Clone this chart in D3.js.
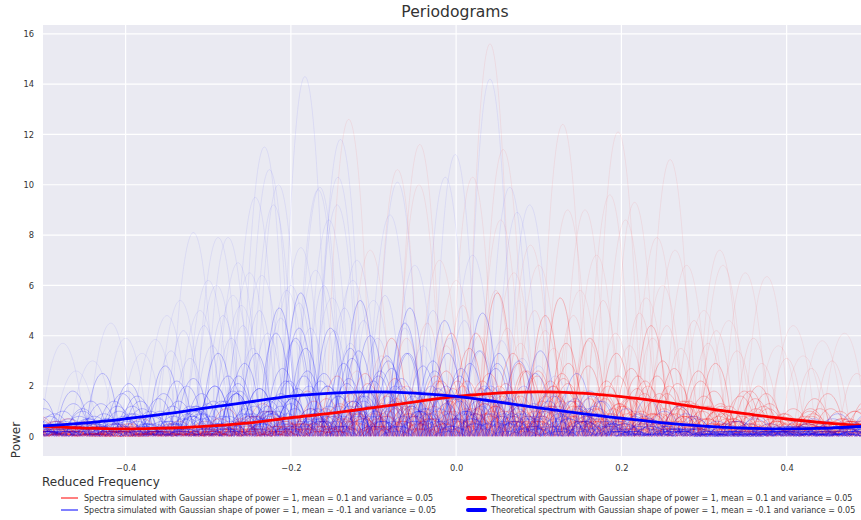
<!DOCTYPE html>
<html><head><meta charset="utf-8">
<script src="https://cdn.jsdelivr.net/npm/d3@7"></script>
<style>body{margin:0;background:#fff}svg{display:block}text{font-family:"DejaVu Sans",sans-serif}</style>
</head><body><svg id="c" width="861" height="520"></svg>
<script>
// ---------- data ----------
const xTicks = [-0.4, -0.2, 0, 0.2, 0.4];
const yTicks = [0, 2, 4, 6, 8, 10, 12, 14, 16];
const freqGrid = [-0.5,-0.45,-0.4,-0.35,-0.3,-0.25,-0.2,-0.15,-0.1,-0.05,0,0.05,0.1,0.15,0.2,0.25,0.3,0.35,0.4,0.45,0.5];
const redTheory  = [0.41,0.33,0.30,0.33,0.41,0.54,0.74,0.92,1.14,1.37,1.59,1.72,1.77,1.72,1.58,1.37,1.12,0.90,0.69,0.53,0.42];
const blueTheory = [0.42,0.53,0.70,0.90,1.14,1.37,1.60,1.72,1.77,1.72,1.59,1.37,1.13,0.91,0.72,0.54,0.41,0.33,0.30,0.33,0.41];

const redOffsets  = [0.5,0.85,0.25,0.05,0.7,0.4,0.9,0.15,0.6,0.3,0.8,0.0,0.45,0.2,0.95,0.65,
                     0.33,0.72,0.08,0.55,0.92,0.18,0.62,0.38,0.88,0.02,0.48,0.75];
const blueOffsets = [0.1,0.55,0.3,0.8,0.45,0.95,0.2,0.65,0.05,0.4,0.75,0.15,0.6,0.9,0.35,0.7,
                     0.25,0.85,0.5,0.0,0.7,0.35,0.9,0.12,0.58,0.78,0.42,0.05];

const redSpectra = [
 [0.2,0.4,0.2,0.7,0.1,0.3,0.6,0.2,1.8,0.4,0.9,2.0,0.3,1.1,2.1,0.6,0.8,1.5,2.4,0.9,1.6,1.0,0.5,0.3,0.5,0.8],
 [0.6,0.1,0.2,0.1,0.3,0.7,0.2,0.6,0.2,1.7,0.8,0.5,4.1,1.3,0.4,2.2,1.0,3.3,0.7,1.4,2.9,0.3,0.8,1.5,0.3,0.5],
 [0.2,0.7,0.4,0.0,0.4,0.2,0.1,1.0,0.6,0.3,2.5,1.2,0.9,0.4,5.7,1.2,2.3,0.6,1.5,3.0,0.5,1.2,0.3,0.5,1.7,0.2],
 [0.5,0.1,0.1,0.5,0.2,0.4,1.1,0.4,0.3,1.1,0.5,3.9,1.5,2.2,0.8,0.2,1.6,3.9,0.5,0.9,1.4,0.5,1.5,0.2,0.4,1.0],
 [0.1,0.3,0.5,0.2,0.1,0.1,0.3,0.8,1.4,0.7,0.3,1.1,2.6,0.6,1.8,4.8,1.2,0.4,1.7,2.1,0.4,0.9,0.6,1.0,0.7,0.3],
 [0.8,0.2,0.0,0.3,0.4,0.6,0.2,0.1,0.5,2.4,1.2,0.6,1.0,3.5,1.4,0.6,2.9,1.7,0.9,0.3,2.2,0.7,0.2,0.7,0.2,1.4],
 [0.3,0.5,0.2,0.1,0.1,0.3,0.8,0.4,0.2,0.9,1.6,0.3,1.9,0.9,2.9,1.8,0.6,2.4,4.4,0.8,1.0,1.8,0.9,0.4,0.6,0.2],
 [0.4,0.1,0.4,0.5,0.2,0.1,0.5,1.3,0.3,0.4,0.8,2.3,0.5,1.5,0.4,2.6,5.5,0.9,0.3,1.7,0.8,0.3,2.0,0.6,0.2,0.6],
 [0.2,0.2,0.3,0.1,0.6,0.2,0.1,0.4,1.1,1.0,0.4,0.9,1.7,4.1,1.0,1.4,0.8,2.0,1.0,2.7,0.7,1.6,0.3,0.5,1.0,0.5],
 [0.5,0.3,0.1,0.3,0.1,0.5,0.4,0.2,0.5,0.2,1.8,1.4,0.7,1.1,2.0,0.4,1.8,0.7,2.7,1.1,0.3,1.0,1.2,0.3,0.4,1.1],
 [0.3,0.6,0.2,0.2,0.4,0.1,0.3,0.6,0.4,1.4,0.9,0.3,1.4,2.2,0.6,1.8,1.0,0.6,2.0,0.6,1.8,0.2,0.7,0.9,0.3,0.2],
 [0.1,0.4,0.4,0.2,0.2,0.4,0.2,0.8,0.5,0.6,1.2,1.7,1.0,0.6,2.5,1.0,0.4,2.8,1.2,1.4,0.5,1.3,0.5,0.7,1.1,0.4],
 [0.4,0.2,0.2,0.3,0.1,0.3,0.6,0.1,0.7,1.2,0.4,1.1,2.2,1.7,1.0,2.4,1.4,0.7,0.3,2.0,1.0,0.6,1.1,0.3,0.5,0.8],
 [0.2,0.3,0.1,0.4,0.3,0.2,0.3,0.6,0.4,0.8,0.7,1.5,0.7,2.0,1.2,0.6,2.5,1.1,1.5,0.6,1.3,0.7,0.4,1.1,0.2,0.5],
 [0.6,0.1,0.3,0.2,0.2,0.4,0.1,0.5,0.9,0.3,1.0,0.6,1.5,0.9,1.6,2.0,0.6,1.3,0.9,1.2,0.8,0.3,0.9,0.5,0.6,0.3],
 [0.2,0.3,0.2,0.1,0.3,0.2,0.4,0.3,0.5,1.0,0.7,1.2,0.5,1.1,1.8,1.0,1.4,1.7,0.7,0.9,1.2,0.8,0.3,0.5,0.7,0.5],
 [0.4,0.2,0.3,0.1,0.5,0.3,0.2,0.8,0.5,0.9,2.1,0.5,1.2,2.2,0.8,0.4,3.7,1.1,1.5,0.6,2.6,0.6,0.8,0.3,1.1,0.5],
 [0.2,0.5,0.2,0.3,0.2,0.1,0.8,0.2,0.8,0.6,0.4,1.8,1.0,0.7,3.3,1.6,0.6,0.9,2.2,1.1,0.5,1.8,0.3,1.1,0.4,0.7],
 [0.3,0.1,0.1,0.4,0.2,0.4,0.2,0.6,0.2,1.5,0.9,1.4,0.3,1.5,1.0,2.6,1.2,0.4,1.2,2.4,0.4,0.9,1.1,0.5,0.2,1.0],
 [0.2,0.4,0.2,0.1,0.3,0.2,0.5,0.2,0.9,0.7,0.5,0.9,2.2,0.9,1.8,0.6,1.2,2.2,0.7,0.5,1.2,0.6,0.7,0.8,0.5,0.2],
 [0.3,0.1,0.2,0.2,0.1,0.3,0.1,0.4,0.4,1.0,0.8,0.5,1.0,1.7,1.2,2.0,0.8,1.3,0.9,1.4,0.5,0.8,0.5,0.4,0.6,0.4],
 [0.1,0.2,0.1,0.2,0.2,0.1,0.3,0.3,0.5,0.3,0.7,1.1,0.7,0.6,1.2,0.8,1.4,0.6,0.9,0.9,0.4,0.5,0.6,0.3,0.3,0.5],
 [0.2,0.1,0.2,0.1,0.1,0.2,0.2,0.4,0.3,0.4,0.4,0.8,0.5,0.9,0.6,0.8,0.6,0.9,0.5,0.6,0.7,0.3,0.3,0.5,0.2,0.3],
 [0.7,0.2,0.1,0.2,0.3,0.1,0.3,1.0,0.3,0.2,1.2,0.6,2.4,0.6,1.6,1.0,2.1,0.6,1.0,1.7,0.3,0.7,1.7,0.4,0.6,0.2],
 [0.1,0.3,0.4,0.2,0.1,0.5,0.3,0.1,0.6,0.6,0.4,1.4,0.7,1.3,0.6,1.2,1.8,0.7,0.3,0.8,1.0,0.5,0.2,0.5,0.7,0.3],
 [0.4,0.1,0.1,0.2,0.4,0.2,0.1,0.3,0.8,0.4,0.9,0.3,0.9,0.7,1.6,0.6,1.0,1.5,0.7,0.5,0.8,1.2,0.4,0.2,0.4,0.6],
 [0.2,0.4,0.2,0.1,0.2,0.1,0.7,0.4,0.3,1.3,0.3,1.2,1.7,0.4,1.4,2.6,0.4,1.7,1.9,0.3,0.7,0.3,1.3,0.5,0.2,0.5],
 [0.3,0.2,0.3,0.1,0.2,0.4,0.2,0.2,0.5,0.3,1.3,0.8,0.3,1.9,0.8,1.2,0.6,1.1,0.7,1.2,0.5,0.2,0.6,0.8,0.2,0.4]
];
const blueSpectra = [
 [0.2,1.0,0.5,2.1,0.1,1.0,2.4,0.7,0.4,2.0,5.4,1.2,0.6,2.4,1.4,0.3,0.6,1.6,0.5,0.1,0.5,0.2,0.8,0.2,0.1,0.5],
 [1.1,0.2,0.6,0.4,2.2,0.4,0.9,4.1,2.0,0.2,1.0,3.3,1.5,0.5,0.2,3.4,1.0,0.4,0.9,0.3,0.1,0.6,0.1,0.4,0.9,0.2],
 [0.5,0.7,2.5,0.2,0.6,1.7,0.2,1.2,5.7,0.8,1.8,0.4,3.0,1.0,3.3,0.7,0.3,0.9,0.1,1.0,0.3,0.1,0.3,0.1,0.5,0.3],
 [0.1,0.3,1.0,0.8,0.3,3.3,1.4,0.3,1.1,3.5,0.6,1.4,0.2,4.9,1.2,1.4,0.2,0.5,1.5,0.2,0.4,0.0,0.2,0.7,0.1,0.5],
 [1.5,0.5,0.2,1.4,0.8,0.1,1.8,0.9,3.5,1.6,0.4,4.5,1.9,0.7,0.9,0.4,1.8,0.8,0.1,0.4,0.1,0.6,0.2,0.1,0.3,0.9],
 [0.3,1.4,0.8,0.1,1.2,0.8,3.3,2.2,0.6,1.0,3.0,1.8,0.7,1.9,0.3,1.6,0.8,0.3,0.6,0.9,0.2,0.1,0.4,0.3,0.2,0.1],
 [0.7,0.2,0.4,1.2,2.8,1.0,0.5,1.0,1.9,4.3,1.4,0.2,1.7,0.9,2.7,0.5,0.2,1.2,0.4,0.2,0.8,0.2,0.1,0.2,0.6,0.4],
 [0.2,0.6,1.4,0.5,0.2,1.4,1.1,5.1,0.7,0.4,2.4,1.2,4.6,1.4,0.5,1.2,2.5,0.2,0.5,0.3,0.0,0.4,0.2,0.5,0.1,0.3],
 [0.8,0.4,0.3,0.6,1.0,2.3,0.3,1.9,1.5,0.8,0.6,2.7,1.1,0.3,2.0,0.9,0.4,1.8,0.2,0.6,0.3,0.1,0.7,0.2,0.4,0.2],
 [0.4,1.8,0.7,0.3,0.5,0.3,2.1,1.0,2.4,1.8,4.0,0.8,0.4,1.7,0.8,2.5,0.7,0.1,0.8,0.2,0.4,0.2,0.1,0.2,0.7,0.2],
 [0.5,0.1,1.2,1.0,0.7,0.5,1.4,2.7,0.9,2.3,1.2,0.6,3.3,1.2,0.6,0.1,1.2,0.5,0.3,1.2,0.1,0.3,0.2,0.1,0.1,0.6],
 [1.0,0.6,0.2,0.9,1.7,1.2,0.6,0.5,3.9,1.2,1.6,2.0,0.9,2.7,1.4,0.8,0.3,0.7,1.1,0.1,0.3,0.5,0.1,0.4,0.2,0.1],
 [0.2,0.8,0.5,0.4,1.4,0.4,2.9,1.5,1.1,2.9,0.8,5.1,1.5,0.5,1.5,0.7,1.5,0.6,0.1,0.5,0.2,0.1,0.4,0.2,0.4,0.7],
 [0.6,0.3,1.7,0.2,0.9,1.4,0.8,0.3,2.2,1.4,3.2,1.0,0.4,1.5,3.0,1.0,0.6,0.2,0.4,0.2,0.6,0.3,0.2,0.1,0.3,0.5],
 [0.3,0.5,0.3,1.6,0.6,0.9,1.7,1.4,0.6,0.4,1.8,2.3,2.6,0.9,0.5,1.3,0.9,1.4,0.2,0.4,0.1,0.2,0.3,0.6,0.1,0.3],
 [0.8,1.1,0.6,0.5,0.2,2.0,0.9,1.7,0.9,2.1,0.6,1.6,2.0,3.4,0.9,0.5,1.1,0.4,0.6,0.3,0.2,0.1,0.3,0.1,0.5,0.2],
 [0.5,0.2,1.3,0.9,0.2,0.9,1.8,0.7,4.3,1.0,1.6,0.4,2.0,1.0,2.9,0.4,0.8,0.9,0.3,0.4,0.7,0.1,0.2,0.4,0.1,0.6],
 [0.9,0.7,0.2,0.5,2.0,0.5,0.9,2.2,0.6,3.1,1.8,1.0,0.4,2.0,1.1,1.8,0.4,0.2,0.7,0.3,0.1,0.5,0.3,0.1,0.3,0.2],
 [0.3,0.5,0.7,1.1,0.5,1.3,0.5,1.5,2.6,0.4,2.2,3.3,1.1,0.7,1.4,0.3,1.4,0.6,0.4,0.2,0.4,0.2,0.5,0.2,0.2,0.4],
 [0.7,0.2,0.5,0.7,1.5,0.8,1.4,0.3,1.3,2.5,0.8,1.2,2.8,1.5,0.5,1.3,0.7,1.1,0.2,0.5,0.3,0.3,0.1,0.4,0.3,0.2],
 [0.2,1.0,0.5,0.3,1.0,2.0,0.6,1.2,0.9,1.8,2.6,0.6,1.3,1.7,0.8,1.0,0.3,0.5,0.8,0.3,0.1,0.3,0.2,0.2,0.4,0.3],
 [0.5,0.4,0.9,0.6,0.3,0.7,1.7,1.0,1.7,0.6,1.2,2.0,0.7,1.0,1.8,0.8,1.0,0.4,0.2,0.6,0.3,0.2,0.2,0.3,0.1,0.3],
 [0.4,0.7,0.4,0.8,0.7,0.4,1.2,0.9,0.7,1.4,1.8,1.0,1.5,0.5,0.9,1.2,0.6,0.6,0.4,0.2,0.4,0.2,0.1,0.2,0.4,0.3],
 [0.8,0.3,0.5,0.3,0.6,1.2,0.8,0.5,1.1,2.0,1.0,0.6,1.1,1.4,0.6,0.7,0.9,0.3,0.5,0.3,0.1,0.4,0.2,0.3,0.2,0.4],
 [0.2,0.4,0.3,0.5,0.5,0.8,0.5,1.0,0.6,0.8,1.2,1.4,0.6,0.9,0.5,0.8,0.4,0.5,0.4,0.2,0.2,0.2,0.2,0.1,0.2,0.2],
 [0.2,0.2,0.5,0.2,0.3,0.5,0.8,0.5,0.7,1.2,0.6,0.8,0.9,0.3,0.6,0.4,0.6,0.3,0.1,0.2,0.1,0.1,0.2,0.1,0.1,0.2],
 [0.6,1.3,0.4,0.2,1.2,0.4,2.4,0.9,0.4,1.6,0.8,1.8,0.6,2.9,0.6,0.3,0.7,1.4,0.2,0.3,0.4,0.1,0.2,0.4,0.1,0.4],
 [0.3,0.2,0.8,1.8,0.3,0.8,0.3,1.9,1.5,0.6,3.4,0.4,1.7,0.7,0.9,2.0,0.2,0.5,0.6,0.1,0.2,0.2,0.3,0.1,0.3,0.2]
];
// isolated tall lobes: [frequency, power]
const redTallPeaks = [
 [-0.130,12.6],[-0.104,7.4],[-0.071,10.6],[-0.044,11.6],[-0.045,10.0],[-0.020,7.0],[0.000,6.2],[0.020,10.3],
 [0.041,15.6],[0.057,11.4],[0.054,8.6],[0.070,6.5],[0.090,7.6],[0.100,6.8],[0.129,12.4],[0.135,9.0],[0.150,5.8],
 [0.156,9.0],[0.170,7.2],[0.186,9.6],[0.196,12.1],[0.205,8.6],[0.216,9.3],[0.230,5.5],[0.243,7.9],[0.250,6.0],
 [0.259,11.0],[0.265,7.4],[0.279,6.8],[0.300,5.0],[0.319,7.4],[0.323,6.8],[0.330,4.6],[0.350,6.5],[0.376,6.35],
 [0.390,3.6],[0.408,4.4],[0.420,3.2],[0.443,3.8],[0.470,4.1]
];
const blueTallPeaks = [
 [-0.476,3.7],[-0.460,2.6],[-0.440,3.0],[-0.418,4.5],[-0.400,3.9],[-0.380,3.3],[-0.364,3.85],[-0.350,4.8],
 [-0.334,5.4],[-0.318,8.1],[-0.310,5.0],[-0.300,6.2],[-0.290,6.0],[-0.288,7.9],[-0.276,7.9],[-0.270,5.6],
 [-0.264,6.9],[-0.260,5.2],[-0.250,6.5],[-0.243,9.5],[-0.235,6.4],[-0.232,11.5],[-0.226,10.6],[-0.221,9.2],
 [-0.215,10.0],[-0.205,5.8],[-0.200,6.0],[-0.188,7.5],[-0.183,14.3],[-0.170,6.6],[-0.167,9.8],[-0.165,9.9],
 [-0.154,8.6],[-0.150,5.5],[-0.144,9.2],[-0.143,10.3],[-0.140,11.8],[-0.125,6.2],[-0.120,7.0],[-0.100,5.4],
 [-0.080,8.8],[-0.071,10.1],[-0.050,6.8],[-0.013,10.3],[-0.001,11.2],[0.020,7.2],[0.041,14.2],[0.065,9.9],
 [0.074,8.9],[0.089,9.2]
];
// medium lobes forming the haze between 2 and 6: [frequency, power]
const redMidPeaks = [
 [-0.12,2.6],[-0.09,3.2],[-0.06,3.9],[-0.035,4.5],[-0.012,3.6],[0.008,5.2],[0.028,4.0],[0.048,5.8],
 [0.062,4.3],[0.078,3.7],[0.095,5.0],[0.108,4.2],[0.118,3.5],[0.142,4.8],[0.16,3.8],[0.178,5.4],
 [0.193,4.1],[0.21,3.6],[0.222,4.9],[0.238,3.9],[0.255,4.4],[0.272,3.5],[0.288,4.6],[0.305,3.7],
 [0.315,4.2],[0.34,3.4],[0.36,3.9],[0.37,2.9],[0.4,3.1],[0.43,2.7],[0.455,3.0],[0.485,2.5]
];
const blueMidPeaks = [
 [-0.345,3.4],[-0.33,4.2],[-0.322,3.1],[-0.305,4.4],[-0.295,3.6],[-0.282,4.8],[-0.272,3.9],[-0.258,4.4],
 [-0.246,3.5],[-0.238,5.0],[-0.228,4.1],[-0.212,4.7],[-0.196,3.8],[-0.19,5.3],[-0.176,4.3],[-0.16,6.0],
 [-0.148,4.2],[-0.135,5.1],[-0.128,3.7],[-0.112,4.6],[-0.095,3.9],[-0.086,5.6],[-0.062,4.3],[-0.04,3.6],
 [-0.028,5.0],[-0.008,3.9],[0.01,4.6],[0.03,3.4],[0.055,3.8],[0.08,3.1],[0.1,2.8],[0.12,2.4]
];
const legendLabels = [
 "Spectra simulated with Gaussian shape of power = 1, mean = 0.1 and variance = 0.05",
 "Spectra simulated with Gaussian shape of power = 1, mean = -0.1 and variance = 0.05",
 "Theoretical spectrum with Gaussian shape of power = 1, mean = 0.1 and variance = 0.05",
 "Theoretical spectrum with Gaussian shape of power = 1, mean = -0.1 and variance = 0.05"
];

// ---------- layout ----------
const L = 43, R = 861, T = 25, B = 456;
const lobeStep = 0.04, tallWidth = 0.055, midWidth = 0.045;
const RED = "#ff0000", BLUE = "#0000ff";
const svg = d3.select("#c");
const x = d3.scaleLinear().domain([-0.5, 0.49]).range([L, R]);
const y = d3.scaleLinear().domain([-0.78, 16.35]).range([B, T]);

svg.append("defs").append("clipPath").attr("id", "clip")
  .append("rect").attr("x", L).attr("y", T).attr("width", R - L).attr("height", B - T);
svg.append("rect").attr("x", L).attr("y", T).attr("width", R - L).attr("height", B - T).attr("fill", "#eaeaf2");

const grid = svg.append("g");
grid.selectAll(".gy").data(yTicks).join("line")
  .attr("x1", L).attr("x2", R).attr("y1", d => y(d)).attr("y2", d => y(d))
  .attr("stroke", "#fff").attr("stroke-width", 1.2);
grid.selectAll(".gx").data(xTicks).join("line")
  .attr("y1", T).attr("y2", B).attr("x1", d => x(d)).attr("x2", d => x(d))
  .attr("stroke", "#fff").attr("stroke-width", 1.2);

function archTo(p, x0, x1, h, a) {
  const w = x1 - x0;
  p.bezierCurveTo(x(x0 + a * w), y(h * 4 / 3), x(x1 - a * w), y(h * 4 / 3), x(x1), y(0));
}
function spectrumPath(vals, off) {
  const p = d3.path();
  const start = -0.52 + off * lobeStep - lobeStep / 2;
  p.moveTo(x(start), y(0));
  vals.forEach((h, k) => {
    const x0 = start + k * lobeStep;
    archTo(p, x0, x0 + lobeStep, h, 0.2);
  });
  return p.toString();
}
function peakPath(width) {
  return d => {
    const p = d3.path();
    const x0 = d[0] - width / 2;
    p.moveTo(x(x0), y(0));
    archTo(p, x0, x0 + width, d[1], 0.3);
    return p.toString();
  };
}

const plot = svg.append("g").attr("clip-path", "url(#clip)");
function drawPeaks(data, color, width, op) {
  plot.append("g").selectAll("path").data(data).join("path").attr("d", peakPath(width))
    .attr("fill", "none").attr("stroke", color).attr("stroke-opacity", op).attr("stroke-width", 0.9);
}
drawPeaks(redTallPeaks, RED, tallWidth, 0.08);
drawPeaks(blueTallPeaks, BLUE, tallWidth, 0.08);
drawPeaks(redMidPeaks, RED, midWidth, 0.1);
drawPeaks(blueMidPeaks, BLUE, midWidth, 0.1);
plot.append("g").selectAll("path").data(redSpectra).join("path").attr("d", (d, i) => spectrumPath(d, redOffsets[i]))
  .attr("fill", "none").attr("stroke", RED).attr("stroke-opacity", 0.25).attr("stroke-width", 0.9);
plot.append("g").selectAll("path").data(blueSpectra).join("path").attr("d", (d, i) => spectrumPath(d, blueOffsets[i]))
  .attr("fill", "none").attr("stroke", BLUE).attr("stroke-opacity", 0.25).attr("stroke-width", 0.9);

const line = d3.line().x(d => x(d[0])).y(d => y(d[1])).curve(d3.curveCatmullRom);
plot.append("path").attr("d", line(freqGrid.map((f, i) => [f, redTheory[i]])))
  .attr("fill", "none").attr("stroke", RED).attr("stroke-width", 2.8);
plot.append("path").attr("d", line(freqGrid.map((f, i) => [f, blueTheory[i]])))
  .attr("fill", "none").attr("stroke", BLUE).attr("stroke-width", 2.8);

// axes
const tickFont = 8.3, tickColor = "#333";
const ax = svg.append("g").attr("transform", `translate(0,${B})`)
  .call(d3.axisBottom(x).tickValues(xTicks).tickFormat(d3.format(".1f")).tickSize(0).tickPadding(9));
const ay = svg.append("g").attr("transform", `translate(${L},0)`)
  .call(d3.axisLeft(y).tickValues(yTicks).tickFormat(d3.format("d")).tickSize(0).tickPadding(9));
[ax, ay].forEach(g => {
  g.select(".domain").remove();
  g.selectAll("text").attr("font-family", "DejaVu Sans").attr("font-size", tickFont).attr("fill", tickColor);
});

svg.append("text").attr("x", 455).attr("y", 17).attr("text-anchor", "middle")
  .attr("font-size", 15.6).attr("fill", "#333").text("Periodograms");
svg.append("text").attr("transform", "translate(19.5,440) rotate(-90)").attr("text-anchor", "middle")
  .attr("font-size", 12).attr("fill", "#333").text("Power");
svg.append("text").attr("x", 42).attr("y", 486)
  .attr("font-size", 12).attr("fill", "#333").text("Reduced Frequency");

// legend
const legItems = [
  {c: RED, w: 1, x: 61, yy: 498}, {c: BLUE, w: 1, x: 61, yy: 510},
  {c: RED, w: 4, x: 468, yy: 498}, {c: BLUE, w: 4, x: 468, yy: 510}
];
const leg = svg.append("g");
legItems.forEach((it, i) => {
  leg.append("line").attr("x1", it.x).attr("x2", it.x + 17).attr("y1", it.yy).attr("y2", it.yy)
    .attr("stroke", it.c).attr("stroke-width", it.w).attr("stroke-linecap", it.w > 1 ? "round" : "butt");
  leg.append("text").attr("x", it.x + 23).attr("y", it.yy).attr("dy", "0.35em")
    .attr("font-size", 8.0).attr("fill", "#333").text(legendLabels[i]);
});
</script></body></html>
